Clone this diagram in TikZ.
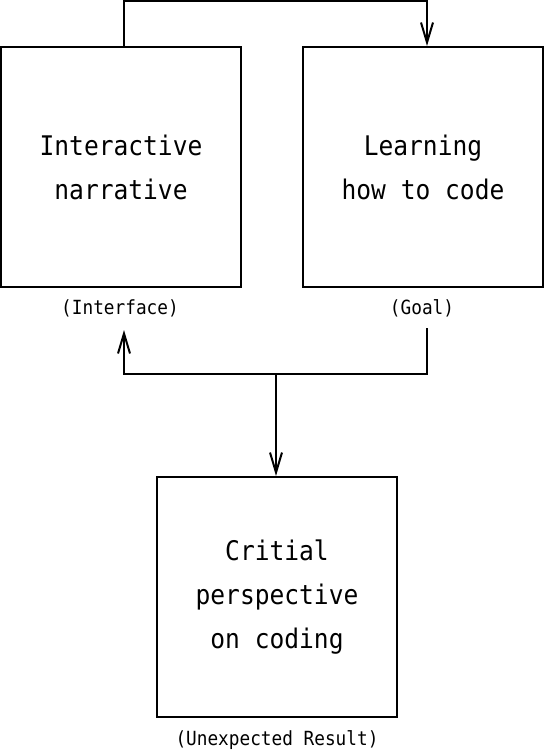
\documentclass[tikz,border=0pt]{standalone}
\usepackage{fontspec}
\usetikzlibrary{arrows.meta}
\newfontfamily\diagfont[FakeStretch=0.91]{DejaVu Sans Mono}

\tikzset{
  box/.style={draw, line width=2pt, minimum width=240pt, minimum height=240pt,
    inner sep=0pt, align=center, font=\diagfont\fontsize{27}{44}\selectfont},
  tag/.style={inner sep=0pt, font=\diagfont\fontsize{19.5}{22}\selectfont},
  link/.style={line width=2pt},
  arr/.style={line width=2pt, -{Straight Barb[length=20pt,width=12pt]}}
}

\begin{document}
\begin{tikzpicture}[x=1pt,y=-1pt]
          \useasboundingbox (0,0) rectangle (544,750);

          \node[box] (narr)  at (121,167) {Interactive\\narrative};
          \node[box] (learn) at (423,167) {Learning\\how to code};
          \node[box] (crit)  at (277,597) {Critial\\perspective\\on coding};

          \node[tag] (iface) at (120,308) {(Interface)};
          \node[tag] (goal)  at (422,308) {(Goal)};
          \node[tag] (res)   at (277,740) {(Unexpected Result)};

          \coordinate (t1) at (124,1);
          \coordinate (t2) at (427,1);
          \coordinate (g)  at (427,328);
          \coordinate (i)  at (124,330);
          \coordinate (j)  at (276,374);

          \draw[arr] (narr.north -| t1) -- (t1) -- (t2) -- (learn.north -| t2);
          \draw[link] (g) |- (j);
          \draw[arr] (j) -| (i);
          \draw[arr] (j) -- (crit.north -| j);
        \end{tikzpicture}
\end{document}
